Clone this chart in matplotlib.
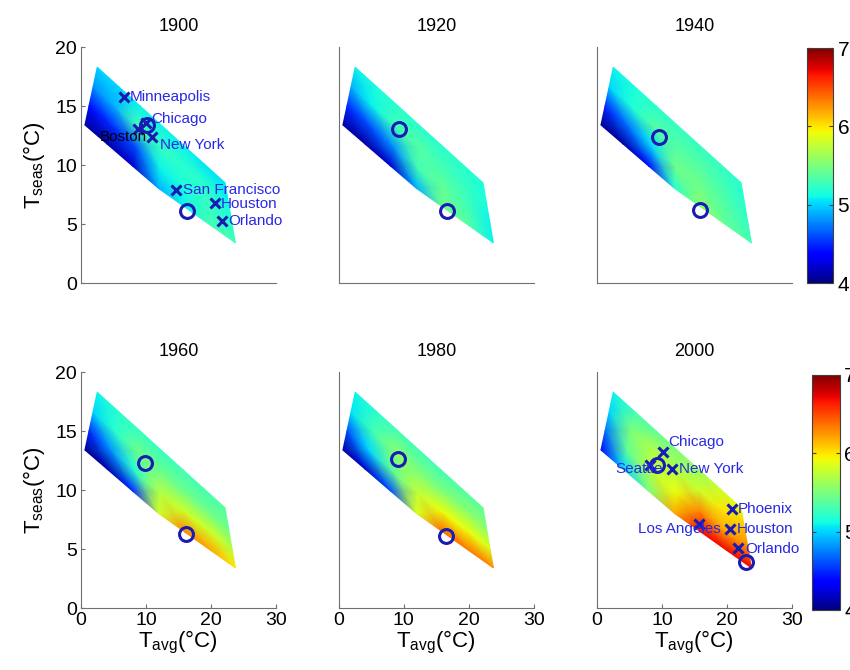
import numpy as np
import matplotlib.pyplot as plt
from matplotlib.cm import ScalarMappable
from matplotlib.colors import Normalize

plt.rcParams['font.family'] = ['Liberation Sans', 'DejaVu Sans']
plt.rcParams['mathtext.fontset'] = 'custom'
plt.rcParams['mathtext.rm'] = 'Liberation Sans'

years = ['1900', '1920', '1940', '1960', '1980', '2000']

# нижняя и верхняя границы области (Tavg, Tseas), слева направо
low_x = [0.6, 4.0, 8.0, 12.0, 16.0, 20.0, 23.8]
low_y = [13.4, 11.79, 9.89, 8.0, 6.44, 4.88, 3.4]
up_x = [2.5, 5.8, 9.1, 12.4, 15.7, 19.0, 22.2]
up_y = [18.3, 16.66, 15.02, 13.37, 11.73, 10.09, 8.5]
rows_t = [0.0, 1 / 3, 2 / 3, 1.0]

# значения поля: строки снизу вверх (от нижней границы к верхней), столбцы слева направо
v1900 = [[4.1, 4.1, 4.2, 4.9, 5.1, 5.3, 5.3],
         [4.4, 4.5, 4.6, 5.1, 5.15, 5.25, 5.2],
         [4.8, 4.9, 5.3, 5.25, 5.2, 5.2, 5.1],
         [5.0, 5.0, 5.1, 5.1, 5.1, 5.05, 5.05]]
v1920 = [[4.1, 4.1, 4.2, 4.9, 5.45, 5.35, 5.1],
         [4.5, 4.6, 4.8, 5.3, 5.4, 5.3, 5.1],
         [4.9, 5.1, 5.3, 5.35, 5.3, 5.25, 5.15],
         [5.1, 5.15, 5.2, 5.2, 5.2, 5.2, 5.15]]
v1940 = [[4.05, 4.1, 4.4, 5.2, 5.55, 5.4, 5.3],
         [4.5, 4.7, 5.0, 5.45, 5.45, 5.35, 5.25],
         [5.0, 5.15, 5.35, 5.35, 5.35, 5.3, 5.2],
         [5.1, 5.15, 5.2, 5.25, 5.25, 5.25, 5.2]]
v1960 = [[4.05, 4.1, 4.5, 5.8, 6.3, 6.2, 6.0],
         [4.5, 4.8, 5.2, 5.7, 5.8, 5.8, 5.7],
         [5.0, 5.2, 5.45, 5.45, 5.45, 5.45, 5.45],
         [5.1, 5.2, 5.25, 5.25, 5.3, 5.3, 5.35]]
v1980 = [[4.1, 4.2, 4.6, 5.85, 6.4, 6.35, 6.3],
         [4.6, 5.0, 5.4, 5.75, 5.9, 5.9, 5.85],
         [5.05, 5.3, 5.55, 5.5, 5.5, 5.55, 5.55],
         [5.1, 5.2, 5.3, 5.3, 5.3, 5.35, 5.4]]
v2000 = [[4.4, 5.0, 5.5, 6.2, 6.7, 6.7, 6.7],
         [4.7, 5.4, 5.7, 5.9, 6.3, 6.2, 6.3],
         [5.0, 5.5, 5.7, 5.7, 5.8, 6.0, 6.1],
         [5.1, 5.3, 5.4, 5.5, 5.6, 5.8, 5.9]]
values = [v1900, v1920, v1940, v1960, v1980, v2000]

# кружки (средние)
circ_x = [[10.2, 16.4], [9.2, 16.6], [9.5, 15.8], [9.8, 16.2], [9.1, 16.5], [9.3, 22.9]]
circ_y = [[13.4, 6.1], [13.1, 6.1], [12.4, 6.2], [12.3, 6.3], [12.6, 6.1], [12.1, 3.9]]

# города
cities_1900 = ['Minneapolis', 'Chicago', 'Boston', 'New York', 'San Francisco', 'Houston', 'Orlando']
cx_1900 = [6.6, 10.0, 8.8, 10.9, 14.7, 20.6, 21.8]
cy_1900 = [15.8, 13.6, 13.1, 12.4, 7.9, 6.8, 5.3]
cities_2000 = ['Chicago', 'Seattle', 'New York', 'Phoenix', 'Los Angeles', 'Houston', 'Orlando']
cx_2000 = [10.2, 8.1, 11.6, 20.8, 15.7, 20.5, 21.7]
cy_2000 = [13.2, 12.1, 11.8, 8.4, 7.1, 6.7, 5.1]

# смещения подписей (пиксели), выравнивание, цвет
lab_1900 = {'Minneapolis': (6, 0, 'left', 'b'), 'Chicago': (5, 4, 'left', 'b'),
            'Boston': (9, -8, 'right', 'k'), 'New York': (8, -8, 'left', 'b'),
            'San Francisco': (7, 0, 'left', 'b'), 'Houston': (6, -1, 'left', 'b'),
            'Orlando': (6, 0, 'left', 'b')}
lab_2000 = {'Chicago': (5, 10, 'left', 'b'), 'Seattle': (13, -4, 'right', 'b'),
            'New York': (7, 0, 'left', 'b'), 'Phoenix': (6, 0, 'left', 'b'),
            'Los Angeles': (22, -5, 'right', 'b'), 'Houston': (7, 0, 'left', 'b'),
            'Orlando': (7, -1, 'left', 'b')}

mk = '#1a1ab4'
txt_blue = '#2828e6'

fig = plt.figure(figsize=(8.5, 6.7), dpi=100)
lefts = [0.0953, 0.3988, 0.7024]
bottoms = [0.5776, 0.0925]
w, h = 0.229, 0.352

# сетка внутри области
t = np.array(rows_t)[:, None]
X = np.array(low_x) + t * (np.array(up_x) - np.array(low_x))
Y = np.array(low_y) + t * (np.array(up_y) - np.array(low_y))
norm = Normalize(4, 7)

for i, yr in enumerate(years):
    r, c = divmod(i, 3)
    ax = fig.add_axes([lefts[c], bottoms[r], w, h])
    ax.pcolormesh(X, Y, np.array(values[i]), shading='gouraud', cmap='jet', norm=norm)
    ax.plot(circ_x[i], circ_y[i], 'o', ms=10, mfc='none', mec=mk, mew=2.2, ls='none')

    if yr in ('1900', '2000'):
        names = cities_1900 if yr == '1900' else cities_2000
        xs = cx_1900 if yr == '1900' else cx_2000
        ys = cy_1900 if yr == '1900' else cy_2000
        labs = lab_1900 if yr == '1900' else lab_2000
        ax.plot(xs, ys, 'x', ms=7, mec=mk, mew=2.2, ls='none')
        for n, x, y in zip(names, xs, ys):
            dx, dy, ha, col = labs[n]
            ax.annotate(n, (x, y), xytext=(dx, dy), textcoords='offset pixels',
                        ha=ha, va='center', fontsize=11,
                        color=txt_blue if col == 'b' else 'black')

    ax.set_xlim(0, 30)
    ax.set_ylim(0, 20)
    ax.set_title(yr, fontsize=13, pad=12)
    for s in ['top', 'right']:
        ax.spines[s].set_visible(False)
    for s in ['left', 'bottom']:
        ax.spines[s].set_color('#707070')
    ax.tick_params(direction='in', length=3, labelsize=14, color='#707070', pad=3)

    if c == 0:
        ax.set_yticks([0, 5, 10, 15, 20])
        ax.set_ylabel(r'T$_{\rm seas}$(°C)', fontsize=16, labelpad=6)
    else:
        ax.set_yticks([])
    if r == 1:
        ax.set_xticks([0, 10, 20, 30])
        ax.set_xlabel(r'T$_{\rm avg}$(°C)', fontsize=16, labelpad=0)
    else:
        ax.set_xticks([])

# цветовые шкалы
for cb_pos in ([0.9494, 0.5776, 0.031, 0.3507], [0.9553, 0.0896, 0.033, 0.3507]):
    cax = fig.add_axes(cb_pos)
    cb = fig.colorbar(ScalarMappable(norm=norm, cmap='jet'), cax=cax, ticks=[4, 5, 6, 7])
    cb.outline.set_edgecolor('#404040')
    cax.tick_params(direction='in', length=3, labelsize=15, left=True, right=True,
                    color='#404040', pad=3)

fig.savefig('out.png', dpi=100)
